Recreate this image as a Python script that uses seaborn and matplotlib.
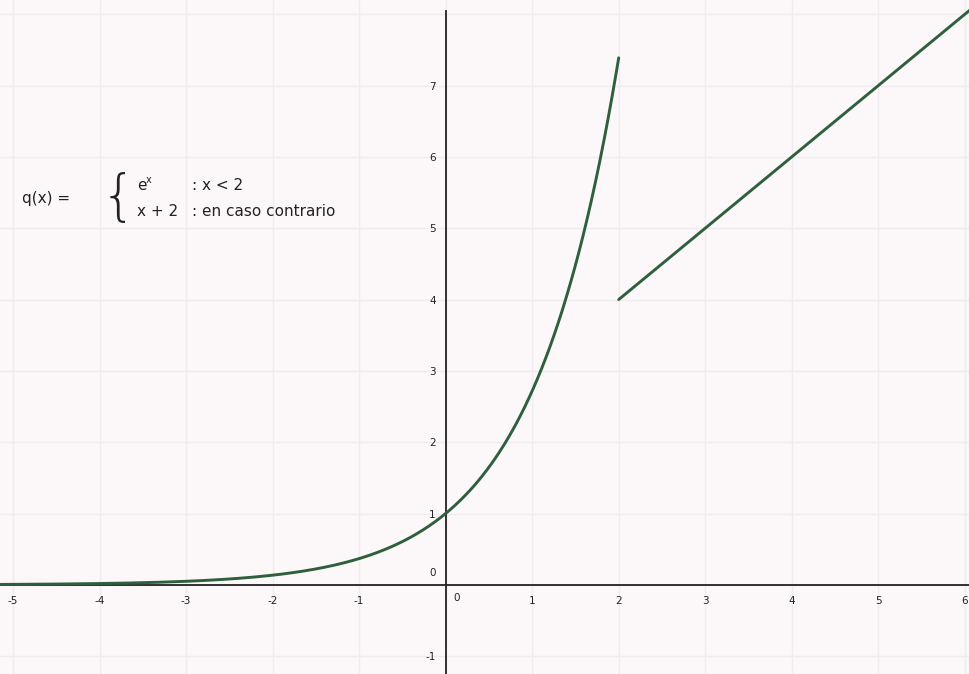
import numpy as np
import pandas as pd
import matplotlib
matplotlib.use("Agg")
import matplotlib.pyplot as plt
import seaborn as sns

# Piecewise function q(x): e^x for x < 2, x + 2 otherwise
exp_start, exp_end = -5.2, 2.0
lin_start, lin_end = 2.0, 6.1
x_ticks = [-5, -4, -3, -2, -1, 1, 2, 3, 4, 5, 6]
y_ticks = [-1, 1, 2, 3, 4, 5, 6, 7]
x_range = (-5.15, 6.06)
y_range = (-1.25, 8.2)

x_exp = np.linspace(exp_start, exp_end, 300)
x_lin = np.linspace(lin_start, lin_end, 50)
df = pd.concat([
    pd.DataFrame({"x": x_exp, "y": np.exp(x_exp), "piece": "exp"}),
    pd.DataFrame({"x": x_lin, "y": x_lin + 2, "piece": "lin"}),
])

sns.set_theme(style="white")
plt.rcParams["font.family"] = ["DejaVu Sans"]

fig = plt.figure(figsize=(9.7, 6.74), dpi=100)
bg = "#fcf8fa"
fig.patch.set_facecolor(bg)
ax = fig.add_axes([0, 0, 1, 1])
ax.set_facecolor(bg)
ax.set_xlim(*x_range)
ax.set_ylim(*y_range)

# grid
for gx in range(-5, 7):
    ax.axvline(gx, color="#f0ebee", lw=1.0, zorder=0)
for gy in range(-1, 9):
    ax.axhline(gy, color="#f0ebee", lw=1.0, zorder=0)

green = "#2f5f3c"
sns.lineplot(data=df, x="x", y="y", units="piece", estimator=None,
             color=green, lw=2.1, ax=ax, sort=False, legend=False,
             solid_capstyle="round")

# axes through the origin
for s in ["top", "right"]:
    ax.spines[s].set_visible(False)
ax.spines["left"].set_position(("data", 0))
ax.spines["bottom"].set_position(("data", 0))
for s in ["left", "bottom"]:
    ax.spines[s].set_color("#222222")
    ax.spines[s].set_linewidth(1.3)
    ax.spines[s].set_zorder(1)
ax.spines["left"].set_bounds(y_range[0], 8.05)

ax.set_xticks(x_ticks)
ax.set_yticks(y_ticks)
ax.set_xticklabels([str(v) for v in x_ticks])
ax.set_yticklabels([str(v) for v in y_ticks])
ax.tick_params(axis="x", direction="inout", length=4, width=1, pad=6,
               labelsize=7.5, colors="#222222")
ax.tick_params(axis="y", direction="inout", length=4, width=1, pad=5,
               labelsize=7.5, colors="#222222")
ax.set_xlabel("")
ax.set_ylabel("")

# origin labels
ax.text(-0.11, 0.09, "0", ha="right", va="bottom", fontsize=7.5, color="#222222")
ax.text(0.09, -0.12, "0", ha="left", va="top", fontsize=7.5, color="#222222")

# function definition
def px(x, y):
    return x / 970, 1 - y / 674

tc = "#222222"
fs = 11
fig.text(*px(22, 199), "q(x) =", fontsize=fs, ha="left", va="center", color=tc)
fig.text(*px(101, 199), "{", fontsize=40, ha="left", va="center", color=tc,
         fontweight="light")
fig.text(*px(137, 186), "e", fontsize=fs, ha="left", va="center", color=tc)
fig.text(*px(146, 180), "x", fontsize=7, ha="left", va="center", color=tc)
fig.text(*px(192, 186), ": x < 2", fontsize=fs, ha="left", va="center", color=tc)
fig.text(*px(137, 211), "x + 2", fontsize=fs, ha="left", va="center", color=tc)
fig.text(*px(192, 211), ": en caso contrario", fontsize=fs, ha="left",
         va="center", color=tc)

fig.savefig("out.png", dpi=100, facecolor=bg)
